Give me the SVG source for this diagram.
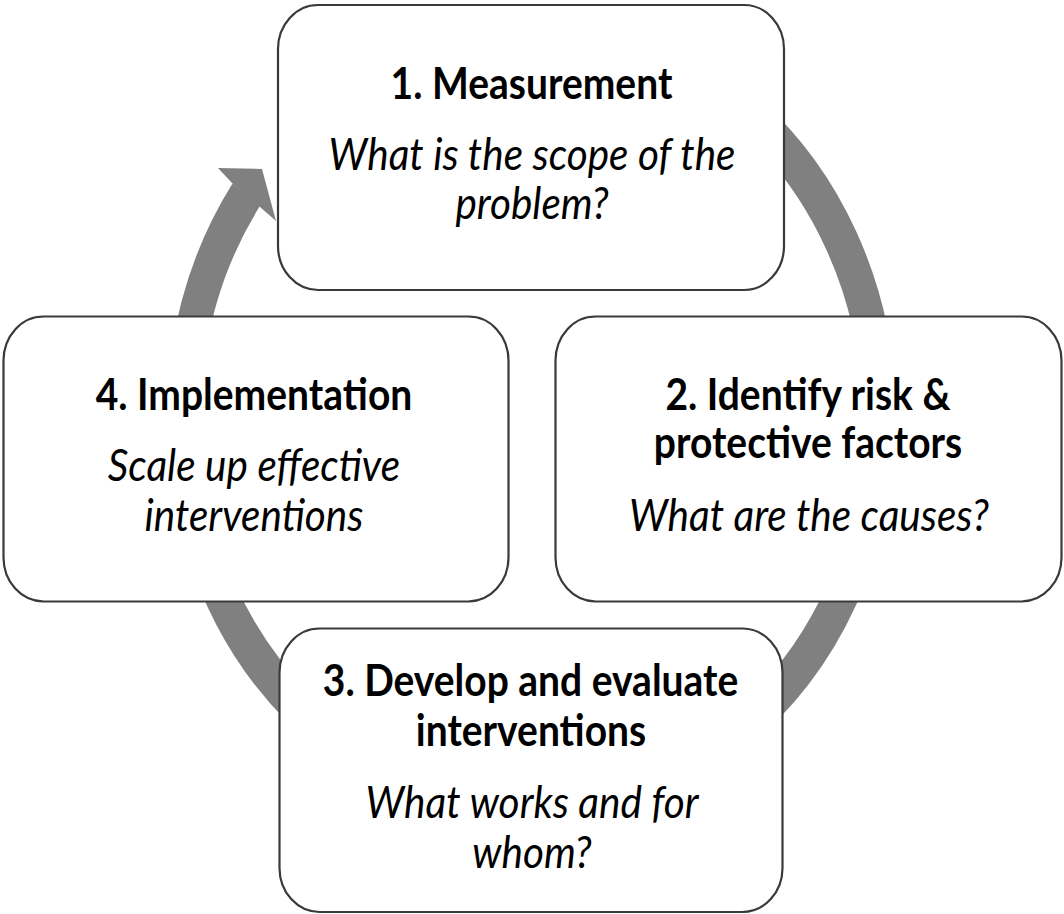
<svg xmlns="http://www.w3.org/2000/svg" width="1064" height="914" viewBox="0 0 1064 914">
  <style>
    .box { fill: #ffffff; stroke: #3a3a3a; stroke-width: 2.2; }
    .ring { fill: none; stroke: #808080; stroke-width: 34; stroke-linecap: butt; }
    .head { fill: #808080; stroke: none; }
    .t { font-family: "Lato", "Liberation Sans", sans-serif; font-size: 39px; fill: #000000; text-anchor: middle; }
    .b { font-weight: bold; }
    .i { font-style: italic; font-size: 40.5px; }
  </style>
  <rect width="1064" height="914" fill="#ffffff"/>
  <g id="connectors">
    <g transform="scale(1 1.12)">
      <path class="ring" d="M 412.5 46.2 A 348 348 0 1 1 246.4 173.6"/>
      <polygon class="head" points="218,150 262,150.9 276,197.3 260,184.8 232,163.4"/>
    </g>
  </g>
  <g id="node1">
    <rect class="box" x="278" y="5" width="506" height="285" rx="40" ry="44"/>
    <text class="t b" transform="translate(531.5 99) scale(1 1.12)">1. Measurement</text>
    <text class="t i" transform="translate(532 170) scale(1 1.12)">What is the scope of the</text>
    <text class="t i" transform="translate(532 219) scale(1 1.12)">problem?</text>
  </g>
  <g id="node2">
    <rect class="box" x="555.5" y="316.5" width="506" height="285" rx="40" ry="44"/>
    <text class="t b" transform="translate(808 410) scale(1 1.12)">2. Identify risk &amp;</text>
    <text class="t b" transform="translate(808 458) scale(1 1.12)">protective factors</text>
    <text class="t i" transform="translate(809 531) scale(1 1.12)">What are the causes?</text>
  </g>
  <g id="node3">
    <rect class="box" x="279.5" y="628.5" width="503" height="283.5" rx="40" ry="44"/>
    <text class="t b" transform="translate(530.5 696) scale(1 1.12)">3. Develop and evaluate</text>
    <text class="t b" transform="translate(531 746) scale(1 1.12)">interventions</text>
    <text class="t i" transform="translate(532 818) scale(1 1.12)">What works and for</text>
    <text class="t i" transform="translate(532 868) scale(1 1.12)">whom?</text>
  </g>
  <g id="node4">
    <rect class="box" x="3.5" y="316.5" width="505" height="285" rx="40" ry="44"/>
    <text class="t b" transform="translate(254 410) scale(1 1.12)">4. Implementation</text>
    <text class="t i" transform="translate(254 481) scale(1 1.12)">Scale up effective</text>
    <text class="t i" transform="translate(254 531) scale(1 1.12)">interventions</text>
  </g>
</svg>
